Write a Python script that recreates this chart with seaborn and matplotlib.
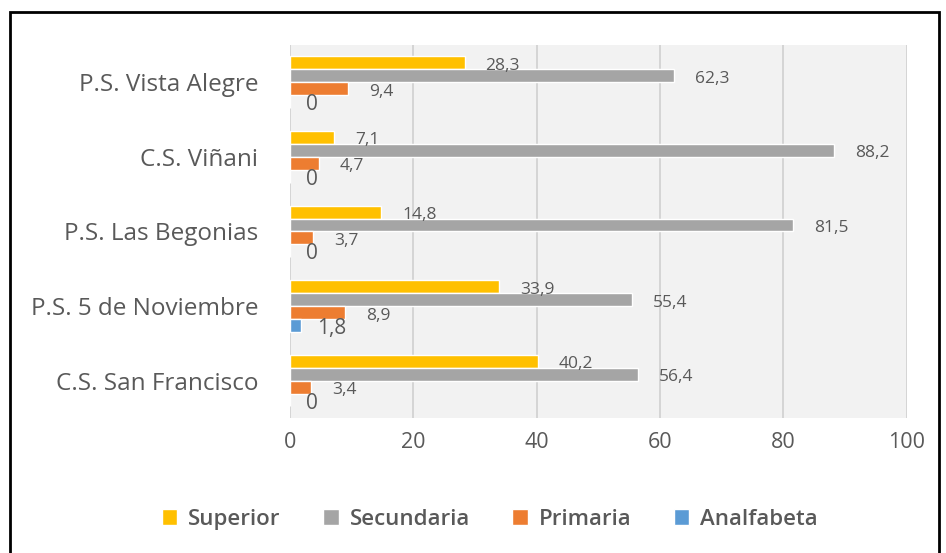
import matplotlib
matplotlib.use("Agg")
import matplotlib.pyplot as plt
import pandas as pd
import seaborn as sns
from matplotlib.patches import Rectangle

centros = ["P.S. Vista Alegre", "C.S. Viñani", "P.S. Las Begonias",
           "P.S. 5 de Noviembre", "C.S. San Francisco"]
niveles = ["Superior", "Secundaria", "Primaria", "Analfabeta"]
superior = [28.3, 7.1, 14.8, 33.9, 40.2]
secundaria = [62.3, 88.2, 81.5, 55.4, 56.4]
primaria = [9.4, 4.7, 3.7, 8.9, 3.4]
analfabeta = [0, 0, 0, 1.8, 0]
colores = ["#FFC000", "#A5A5A5", "#ED7D31", "#5B9BD5"]

df = pd.DataFrame({
    "centro": centros * 4,
    "nivel": [n for n in niveles for _ in centros],
    "valor": superior + secundaria + primaria + analfabeta,
})

sns.set_theme(style="white")
plt.rcParams["font.family"] = ["Open Sans", "DejaVu Sans"]
text_color = "#595959"

fig = plt.figure(figsize=(9.46, 5.53), dpi=100)
ax = fig.add_axes([0.3066, 0.244, 0.652, 0.675])
ax.set_facecolor("#F2F2F2")

sns.barplot(data=df, x="valor", y="centro", hue="nivel", order=centros,
            hue_order=niveles, palette=colores, orient="h", width=0.69,
            saturation=1, ax=ax, legend=True)

ax.set_xlim(0, 100)
ax.set_xticks([0, 20, 40, 60, 80, 100])
ax.xaxis.grid(True, color="#D0D0D0", linewidth=1.2)
ax.set_axisbelow(True)
for s in ax.spines.values():
    s.set_visible(False)
ax.set_xlabel("")
ax.set_ylabel("")
ax.tick_params(axis="x", labelsize=15.5, colors=text_color, pad=10, length=0)
ax.tick_params(axis="y", labelsize=17.5, colors=text_color, pad=23, length=0)

# value labels with decimal comma
for cont, nivel in zip(ax.containers, niveles):
    for bar in cont:
        w = bar.get_width()
        yc = bar.get_y() + bar.get_height() / 2
        txt = f"{w:.1f}".replace(".", ",") if w else "0"
        big = nivel == "Analfabeta"
        ax.text(w + (2.6 if big else 3.4), yc + 0.04, txt,
                ha="left", va="center", color=text_color,
                fontsize=15 if big else 12.5)

leg = ax.legend(loc="upper center", bbox_to_anchor=(0.324, -0.19),
                ncol=4, frameon=False, handlelength=0.7, handleheight=0.7,
                columnspacing=1.9, handletextpad=0.5,
                prop={"size": 16, "weight": "semibold"})
for t in leg.get_texts():
    t.set_color(text_color)

fig.patches.append(Rectangle((0.011, -0.01), 0.982, 0.988, transform=fig.transFigure,
                             fill=False, edgecolor="black", linewidth=2))

fig.savefig("out.png", dpi=100)
